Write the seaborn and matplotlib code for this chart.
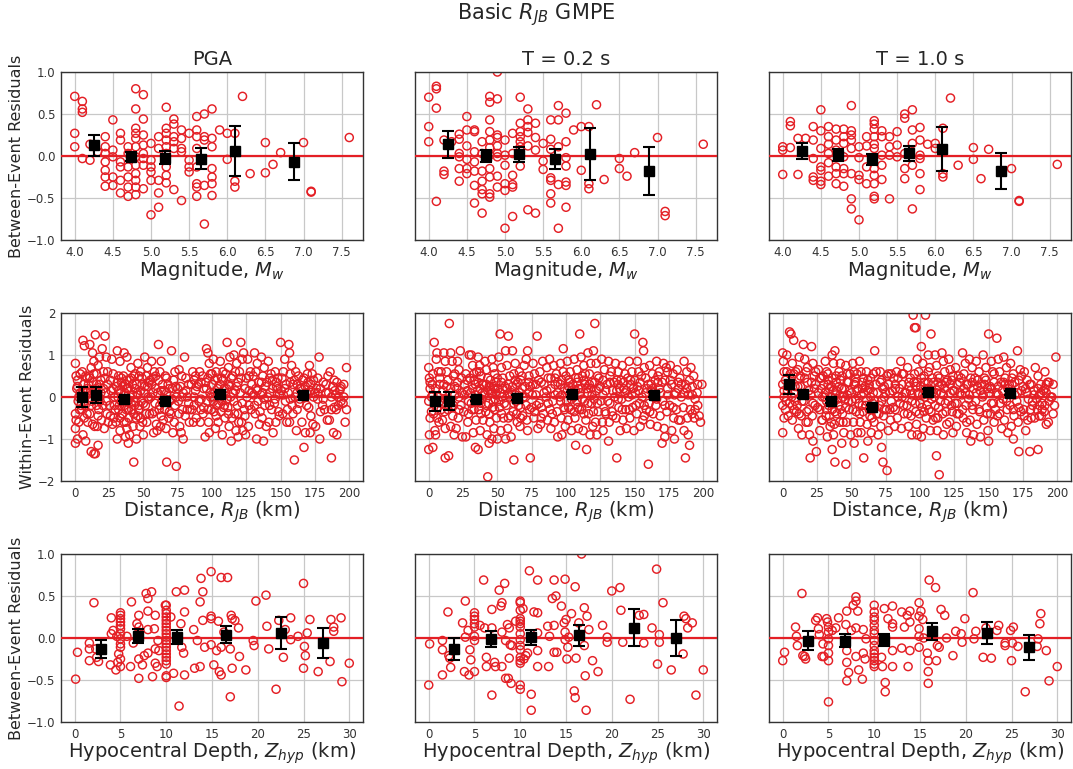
import matplotlib
matplotlib.use("Agg")
import matplotlib.pyplot as plt
import seaborn as sns

sns.set_style("white")
plt.rcParams['font.family'] = ['DejaVu Sans']

# ---------------- Magnitude (between-event) ----------------
mag_pga = [(4.0,0.71),(4.0,0.27),(4.0,0.11),(4.1,0.65),(4.1,0.56),(4.1,0.52),(4.1,-0.03),(4.2,0.14),(4.2,-0.05),
 (4.3,0.05),(4.4,0.23),(4.4,0.11),(4.4,0.03),(4.4,-0.07),(4.4,-0.17),(4.4,-0.25),(4.4,-0.36),(4.5,0.43),(4.5,0.07),
 (4.5,-0.01),(4.5,-0.25),(4.5,-0.35),(4.6,0.27),(4.6,0.19),(4.6,-0.07),(4.6,-0.13),(4.6,-0.29),(4.6,-0.44),(4.7,0.11),
 (4.7,0.03),(4.7,-0.13),(4.7,-0.25),(4.7,-0.37),(4.7,-0.48),(4.8,0.80),(4.8,0.56),(4.8,0.33),(4.8,0.27),(4.8,0.21),
 (4.8,0.11),(4.8,-0.01),(4.8,-0.11),(4.8,-0.21),(4.8,-0.29),(4.8,-0.37),(4.8,-0.46),(4.9,0.73),(4.9,0.44),(4.9,0.25),
 (4.9,0.13),(4.9,0.03),(4.9,-0.03),(4.9,-0.11),(4.9,-0.39),(5.0,0.15),(5.0,-0.05),(5.0,-0.13),(5.0,-0.19),(5.0,-0.29),
 (5.0,-0.70),(5.1,0.23),(5.1,0.09),(5.1,-0.29),(5.1,-0.44),(5.1,-0.61),(5.2,0.58),(5.2,0.33),(5.2,0.27),(5.2,0.19),
 (5.2,0.11),(5.2,0.03),(5.2,-0.13),(5.2,-0.23),(5.2,-0.32),(5.3,0.44),(5.3,0.38),(5.3,0.23),(5.3,0.17),(5.3,0.09),
 (5.3,-0.40),(5.4,0.31),(5.4,0.21),(5.4,0.09),(5.4,0.05),(5.4,-0.53),(5.5,0.27),(5.5,-0.05),(5.5,-0.13),(5.5,-0.19),
 (5.6,0.47),(5.6,0.31),(5.6,0.23),(5.6,0.09),(5.6,-0.13),(5.6,-0.33),(5.6,-0.37),(5.6,-0.48),(5.7,0.50),(5.7,0.23),
 (5.7,0.19),(5.7,-0.35),(5.7,-0.81),(5.8,0.56),(5.8,0.21),(5.8,0.11),(5.8,-0.15),(5.8,-0.25),(5.8,-0.33),(5.8,-0.47),
 (5.9,0.31),(6.0,0.27),(6.0,-0.04),(6.1,0.27),(6.1,-0.30),(6.1,-0.37),(6.2,0.71),(6.3,-0.21),(6.5,0.16),(6.5,-0.20),
 (6.6,-0.10),(6.7,0.04),(7.0,0.16),(7.1,-0.42),(7.1,-0.43),(7.6,0.22)]

mag_t02 = [(4.0,0.70),(4.0,0.35),(4.0,0.17),(4.1,0.83),(4.1,0.80),(4.1,0.57),(4.1,-0.54),(4.2,-0.18),(4.2,-0.22),
 (4.2,0.19),(4.3,0.17),(4.4,0.26),(4.4,0.20),(4.4,0.03),(4.4,-0.01),(4.4,-0.15),(4.4,-0.30),(4.5,0.47),(4.5,0.31),
 (4.5,0.12),(4.5,-0.04),(4.5,-0.15),(4.5,-0.21),(4.6,0.31),(4.6,0.29),(4.6,0.05),(4.6,-0.07),(4.6,-0.18),(4.6,-0.35),
 (4.6,-0.56),(4.7,0.17),(4.7,0.03),(4.7,-0.18),(4.7,-0.30),(4.7,-0.40),(4.7,-0.45),(4.7,-0.68),(4.8,0.71),(4.8,0.64),
 (4.8,0.43),(4.8,0.29),(4.8,0.19),(4.8,0.10),(4.8,0.01),(4.8,-0.15),(4.8,-0.25),(4.8,-0.45),(4.8,-0.49),(4.9,1.0),
 (4.9,0.68),(4.9,0.25),(4.9,0.22),(4.9,0.12),(4.9,0.03),(4.9,-0.01),(4.9,-0.24),(4.9,-0.37),(5.0,0.19),(5.0,0.01),
 (5.0,-0.11),(5.0,-0.33),(5.0,-0.41),(5.0,-0.86),(5.1,0.27),(5.1,0.03),(5.1,-0.23),(5.1,-0.34),(5.1,-0.37),(5.1,-0.72),
 (5.2,0.70),(5.2,0.39),(5.2,0.29),(5.2,0.23),(5.2,0.17),(5.2,0.11),(5.2,-0.12),(5.3,0.56),(5.3,0.43),(5.3,0.35),
 (5.3,0.28),(5.3,0.12),(5.3,-0.64),(5.4,0.39),(5.4,0.22),(5.4,0.07),(5.4,-0.68),(5.5,0.15),(5.5,-0.06),(5.5,-0.16),
 (5.6,0.43),(5.6,0.20),(5.6,0.08),(5.6,-0.26),(5.6,-0.29),(5.6,-0.45),(5.6,-0.56),(5.7,0.60),(5.7,0.43),(5.7,0.11),
 (5.7,-0.34),(5.7,-0.86),(5.8,0.51),(5.8,0.17),(5.8,-0.02),(5.8,-0.12),(5.8,-0.31),(5.8,-0.35),(5.8,-0.61),(5.9,0.31),
 (6.0,0.35),(6.0,-0.17),(6.1,0.35),(6.1,-0.33),(6.1,-0.39),(6.2,0.61),(6.3,-0.28),(6.5,-0.03),(6.5,-0.15),(6.6,-0.24),
 (6.7,0.04),(7.0,0.22),(7.1,-0.66),(7.1,-0.71),(7.6,0.14)]

mag_t10 = [(4.0,0.11),(4.0,0.07),(4.0,-0.22),(4.1,0.41),(4.1,0.36),(4.1,0.10),(4.2,0.21),(4.2,-0.22),(4.3,0.21),
 (4.4,0.35),(4.4,0.19),(4.4,-0.03),(4.4,-0.25),(4.4,-0.29),(4.5,0.55),(4.5,0.30),(4.5,0.09),(4.5,-0.13),(4.5,-0.17),
 (4.5,-0.30),(4.5,-0.34),(4.6,0.35),(4.6,0.23),(4.6,0.14),(4.6,0.03),(4.6,-0.08),(4.6,-0.24),(4.7,0.32),(4.7,0.19),
 (4.7,0.07),(4.7,-0.13),(4.7,-0.21),(4.7,-0.33),(4.8,0.32),(4.8,0.23),(4.8,0.15),(4.8,-0.01),(4.8,-0.15),(4.8,-0.21),
 (4.8,-0.36),(4.9,0.60),(4.9,0.30),(4.9,0.25),(4.9,0.19),(4.9,0.09),(4.9,-0.21),(4.9,-0.51),(4.9,-0.63),(5.0,0.11),
 (5.0,-0.02),(5.0,-0.23),(5.0,-0.28),(5.0,-0.76),(5.1,0.23),(5.1,0.12),(5.1,-0.13),(5.1,-0.33),(5.2,0.42),(5.2,0.38),
 (5.2,0.32),(5.2,0.23),(5.2,0.14),(5.2,0.09),(5.2,-0.15),(5.2,-0.23),(5.2,-0.33),(5.2,-0.48),(5.2,-0.51),(5.3,0.30),
 (5.3,0.23),(5.3,0.01),(5.3,-0.11),(5.3,-0.28),(5.4,0.23),(5.4,0.11),(5.4,0.01),(5.4,-0.51),(5.5,0.29),(5.5,0.13),
 (5.5,-0.01),(5.6,0.50),(5.6,0.45),(5.6,0.03),(5.6,-0.15),(5.6,-0.27),(5.7,0.55),(5.7,0.31),(5.7,0.15),(5.7,-0.11),
 (5.7,-0.63),(5.8,0.34),(5.8,0.19),(5.8,0.01),(5.8,-0.03),(5.8,-0.21),(5.8,-0.40),(5.9,0.14),(6.0,0.15),(6.0,0.09),
 (6.1,0.33),(6.1,-0.21),(6.1,-0.25),(6.2,0.69),(6.3,-0.11),(6.5,0.10),(6.5,-0.04),(6.6,-0.27),(6.7,0.08),(7.0,-0.15),
 (7.1,-0.53),(7.1,-0.54),(7.6,-0.10)]

mag_bin_x = [[4.25,4.74,5.19,5.65,6.10,6.88], [4.25,4.75,5.19,5.66,6.11,6.89], [4.25,4.73,5.17,5.65,6.09,6.86]]
mag_bin_y = [[0.13,-0.01,-0.02,-0.03,0.06,-0.07], [0.14,0.0,0.02,-0.04,0.02,-0.18], [0.06,0.01,-0.04,0.03,0.08,-0.18]]
mag_bin_e = [[0.125,0.055,0.075,0.12,0.30,0.22], [0.16,0.075,0.09,0.12,0.31,0.29], [0.09,0.07,0.065,0.09,0.26,0.21]]

# ---------------- Distance (within-event) ----------------
dist_pga = [(0.5,0.8),(1,0.5),(2,0.4),(1.5,0.2),(3,0.0),(2.5,-0.1),(0.5,-0.4),(1,-0.55),(0.5,-0.75),(2,-1.0),(0.5,-1.1),(3.5,-0.3),(4,0.55),(4.5,-0.2),
 (6,1.35),(7,1.22),(5.5,0.6),(8,0.5),(9,0.45),(6.5,0.3),(8.5,0.1),(7.5,-0.2),(5,-0.3),(9.5,-0.6),(6,-0.9),(8,-1.05),(9,0.2),(7,-0.5),
 (11,1.25),(13,1.05),(14,0.85),(12,0.7),(10.5,0.5),(13.5,0.35),(11.5,0.15),(12.5,-0.1),(13,-0.65),(14.5,-0.7),(12,-1.3),(14,-1.35),(10,0.3),(11,-0.4),(14,0.55),
 (15,1.48),(18,0.95),(17,0.75),(16,0.55),(19,0.4),(15.5,0.2),(18.5,-0.1),(17.5,-0.3),(19.5,-0.55),(16.5,-0.7),(17,-1.15),(15,-1.35),(18,0.3),(16,-0.2),
 (22,1.45),(20,1.15),(23,0.95),(21,0.6),(24,0.3),(22.5,0.1),(20.5,-0.2),(23.5,-0.4),(21.5,-0.75),(24.5,-0.6),(22,0.45),
 (27,0.9),(26,0.4),(28,0.2),(29,0.0),(25.5,-0.2),(28.5,-0.5),(27.5,-0.65),(26.5,0.15),(29.5,-0.3),
 (31,1.1),(33,0.85),(32,0.5),(34,0.35),(30.5,0.25),(33.5,0.1),(31.5,0.0),(32.5,-0.2),(34.5,-0.4),(30,-0.6),(33,-0.8),(31,-1.0),(34,0.45),(32,-0.3),
 (36,1.05),(38,0.95),(35.5,0.5),(37,0.3),(39,0.2),(36.5,0.1),(38.5,-0.1),(37.5,-0.3),(35,-0.4),(39.5,-0.5),(36,-0.6),(38,-0.75),(37,-0.95),(39,-1.1),(36,-0.2),(38,0.4),
 (41,0.7),(43,0.5),(42,0.3),(44,0.2),(40.5,0.0),(43.5,-0.2),(41.5,-0.3),(44.5,-0.5),(42.5,-0.7),(40,-0.9),(43,-1.55),(41,0.45),(44,-0.1),
 (46,0.8),(48,0.6),(47,0.5),(49,0.3),(45.5,0.1),(48.5,-0.1),(46.5,-0.3),(49.5,-0.6),(47.5,-0.7),(45,-1.0),(48,0.15),(46,-0.45),
 (51,0.95),(53,0.7),(52,0.5),(54,0.35),(50.5,0.1),(53.5,0.0),(51.5,-0.2),(54.5,-0.4),(52.5,-0.6),(50,-0.9),(53,0.25),
 (56,0.85),(58,0.6),(57,0.45),(59,0.2),(55.5,0.0),(58.5,-0.15),(56.5,-0.4),(59.5,-0.65),(57.5,-0.85),(56,0.3),
 (61,1.25),(63,0.85),(62,0.6),(64,0.3),(60.5,0.1),(63.5,-0.1),(61.5,-0.3),(64.5,-0.55),(62.5,-0.7),(60,-0.8),(63,0.15),
 (66,0.5),(68,0.3),(67,0.1),(69,-0.1),(65.5,-0.3),(68.5,-0.5),(66.5,-0.75),(67,-1.55),(69,0.2),
 (70.5,1.1),(72,0.4),(71,0.2),(74,0.0),(73,-0.2),(70,-0.4),(72.5,-0.6),(71.5,-0.85),(74,-1.65),(73.5,0.25),
 (76,0.65),(78,0.5),(77,0.25),(79,0.1),(75.5,-0.1),(78.5,-0.3),(76.5,-0.7),(77.5,-0.85),(79,-1.0),(80,0.95),
 (81,0.45),(83,0.3),(82,0.0),(84,-0.3),(80.5,-0.45),(83.5,-0.6),(82,-0.3),
 (86,0.6),(88,0.5),(87,0.4),(89,0.25),(85.5,-0.3),(88.5,-0.5),(86.5,-0.6),(87,0.0),
 (91,0.6),(93,0.5),(92,0.35),(94,0.2),(90.5,-0.1),(93.5,-0.4),(91.5,-0.6),(92,-0.3),
 (96,1.15),(97,1.05),(98,0.8),(99,0.55),(95.5,0.35),(98.5,0.1),(96.5,-0.1),(99.5,-0.3),(97.5,-0.6),(95,-0.95),(98,-0.85),(97,0.45),
 (101,0.9),(103,0.6),(102,0.4),(104,0.2),(100.5,0.0),(103.5,-0.2),(101.5,-0.35),(104.5,-0.6),(102.5,-0.75),(100,0.55),
 (106,0.85),(108,0.6),(107,0.45),(109,0.2),(105.5,0.0),(108.5,-0.25),(106.5,-0.35),(109.5,-0.5),(107.5,-0.9),(106,0.3),
 (111,1.3),(113,0.95),(112,0.7),(114,0.45),(110.5,0.2),(113.5,0.0),(111.5,-0.25),(114.5,-0.5),(112.5,-0.7),(114,-1.05),(112,0.3),
 (116,1.0),(118,0.8),(117,0.6),(119,0.35),(115.5,0.1),(118.5,-0.2),(116.5,-0.4),(119.5,-0.6),(117.5,-0.8),(119,-0.95),(117,0.15),
 (121,1.3),(123,1.05),(122,0.9),(124,0.2),(120.5,0.1),(123.5,-0.3),(121.5,-0.6),(124.5,-0.9),(122.5,-0.8),(121,0.45),
 (126,0.9),(128,0.6),(127,0.5),(129,0.3),(125.5,0.0),(128.5,-0.3),(126.5,-0.7),(127,0.15),
 (131,1.05),(133,0.8),(132,0.6),(134,0.35),(130.5,0.05),(133.5,-0.1),(131.5,-0.4),(134.5,-0.65),(132.5,-1.0),(132,0.2),
 (136,0.95),(138,0.7),(137,0.5),(139,0.25),(135.5,0.05),(138.5,-0.2),(136.5,-0.5),(139.5,-0.7),(137.5,-1.05),(136,0.35),
 (141,0.85),(143,0.55),(142,0.45),(144,0.2),(140.5,0.0),(143.5,-0.3),(141.5,-0.6),(144.5,-0.85),(142,0.1),
 (146,0.6),(148,0.45),(147,0.25),(149,0.05),(145.5,-0.15),(148.5,-0.35),(146.5,-0.6),(147,0.35),
 (150,1.3),(153,0.9),(152,0.6),(154,0.3),(150.5,0.15),(153.5,-0.1),(151.5,-0.4),(154.5,-0.6),(152,0.05),
 (156,1.25),(156.5,1.05),(158,0.75),(157,0.55),(159,0.3),(155.5,0.1),(158.5,-0.2),(156.5,-0.6),(160,-1.5),(157,-0.05),
 (161,0.6),(163,0.5),(162,0.3),(164,0.2),(160.5,0.0),(163.5,-0.15),(161.5,-0.8),(162,0.1),
 (166,0.4),(168,0.25),(167,0.0),(169,-0.2),(165.5,-0.6),(167,-1.2),(168,-0.85),(169.5,0.55),
 (171,0.75),(173,0.55),(172,0.3),(174,0.0),(170.5,-0.25),(173.5,-0.65),(171.5,-0.85),(172,0.15),
 (176,0.2),(178,0.95),(177,0.1),(179,-0.35),(175.5,-0.7),(178.5,-1.0),(177,-0.05),
 (181,0.35),(183,0.1),(182,-0.3),(184,-0.55),(180.5,-0.2),(184.5,0.5),
 (186,0.6),(188,0.25),(187,0.0),(189,-0.25),(185.5,-0.55),(188.5,-0.85),(187,-1.45),(189.5,0.15),
 (191,0.35),(193,0.15),(192,0.0),(194,-0.1),(190.5,-0.3),(191,-0.9),(193.5,0.2),
 (198,0.7),(196,0.0),(197,-0.6),(195.5,-0.15)]

dist_pga_core = [(2,0.25),(3,-0.6),(4,0.1),(6,0.15),(7,-0.1),(9,-0.4),(11,0.45),(12,-0.2),(13,0.1),(16,0.3),(17,-0.45),(19,0.1),
 (21,0.2),(23,-0.1),(24,0.6),(26,-0.45),(28,0.55),(29,-0.2),(31,0.35),(32,0.15),(33,-0.5),(34,-0.1),(35,0.25),(36,-0.05),
 (37,0.05),(37.5,-0.6),(38,0.2),(39,-0.3),(40,0.4),(41,-0.15),(42,0.05),(43,-0.4),(44,0.55),(45,0.3),(46,0.05),(47,-0.2),
 (48,-0.5),(49,0.45),(50,-0.15),(51,0.25),(52,-0.4),(54,-0.05),(55,0.4),(57,0.1),(58,-0.35),(59,0.5),(61,0.4),(62,-0.2),
 (63,-0.45),(65,0.15),(66,-0.05),(67,0.45),(69,-0.35),(71,-0.05),(73,0.6),(75,0.2),(76,-0.4),(78,0.0),(81,0.15),(83,-0.15),
 (85,0.3),(87,-0.2),(88,0.15),(90,0.3),(92,-0.05),(94,-0.25),(96,0.2),(97,-0.3),(99,0.0),(100,0.3),(101,-0.1),(102,0.1),
 (103,-0.45),(104,0.45),(105,-0.15),(106,0.1),(107,-0.1),(108,0.4),(109,-0.2),(110,0.55),(111,-0.05),(112,-0.4),(113,0.25),
 (115,0.5),(116,-0.1),(118,0.25),(119,-0.4),(120,0.6),(122,-0.15),(124,-0.45),(125,0.45),(127,-0.2),(129,0.1),(130,0.5),
 (131,-0.2),(133,0.15),(135,-0.35),(137,0.1),(138,-0.05),(140,0.35),(142,-0.2),(144,0.4),(146,-0.05),(148,0.2),(149,-0.45),
 (151,0.45),(153,0.2),(155,-0.3),(157,0.35),(159,-0.4),(160,0.4),(162,-0.3),(164,-0.05),(165,0.2),(167,0.45),(169,0.1),
 (170,0.35),(172,-0.45),(174,0.4),(175,0.1),(177,0.45),(179,0.2),(181,-0.05),(183,0.3),(185,0.1),(187,-0.3),(189,0.4),
 (190,0.05),(192,-0.2),(194,0.25),(196,0.3),(198,-0.3)]

dist_t02 = [(0,0.7),(0.5,0.45),(1,0.2),(0,-0.1),(1,-0.5),(0.5,-0.9),(0,-1.25),(3,0.55),(4,1.3),(3.5,-0.4),(2,0.0),(4.5,-0.8),(2.5,0.3),(3,-1.2),
 (6,1.05),(5.5,0.9),(7,0.6),(8,0.3),(6.5,0.0),(9,-0.3),(7.5,-0.6),(5,-0.9),(8,0.45),(9.5,-0.15),(6,-0.5),
 (11,1.05),(12,0.85),(13,0.6),(14,0.4),(10.5,0.15),(13.5,-0.05),(11.5,-0.35),(12,-0.75),(14.5,-1.4),(12,-1.45),(10,-0.55),(13,0.25),
 (15,1.75),(16,1.05),(17,0.85),(18,0.5),(19,0.25),(15.5,-0.1),(17.5,-0.45),(18.5,-0.9),(16,-0.7),(19,0.05),(17,-0.25),
 (21,0.85),(22,0.65),(23,1.1),(24,0.45),(20.5,0.2),(23.5,-0.2),(21.5,-0.5),(24.5,-0.95),(22,0.0),(20,-0.75),
 (26,0.3),(27,0.55),(28,0.15),(29,-0.1),(25.5,-0.35),(28.5,-0.6),(27,-0.95),(29.5,1.0),
 (31,1.0),(32,0.75),(33,0.55),(34,0.3),(30.5,0.1),(33.5,-0.1),(31.5,-0.3),(34.5,-0.55),(32.5,-0.85),(34,-1.2),(33,0.4),
 (36,0.95),(37,0.75),(38,0.5),(39,0.3),(35.5,0.15),(38.5,-0.05),(36.5,-0.3),(39.5,-0.55),(37.5,-0.8),(36,-1.25),(38,-0.15),(37,0.6),
 (41,0.85),(42,0.65),(43,0.45),(44,0.25),(40.5,0.05),(43.5,-0.15),(41.5,-0.35),(44.5,-0.6),(42.5,-0.9),(43,-1.9),(44,-1.1),(42,0.3),
 (46,0.9),(47,0.7),(48,0.55),(49,0.35),(45.5,0.15),(48.5,-0.05),(46.5,-0.25),(49.5,-0.5),(47.5,-0.75),(46,-1.0),(48,0.2),(47,-0.1),
 (52,1.5),(51,0.95),(53,0.7),(54,0.45),(50.5,0.2),(53.5,0.0),(51.5,-0.25),(54.5,-0.5),(52.5,-0.8),(50,-1.0),(53,0.35),
 (58,1.45),(56,1.1),(57,0.75),(59,0.5),(55.5,0.25),(58.5,0.05),(56.5,-0.2),(59.5,-0.45),(57.5,-0.75),(56,-1.0),(58,0.3),
 (61,1.1),(63,0.8),(62,0.55),(64,0.3),(60.5,0.1),(63.5,-0.1),(61.5,-0.35),(64.5,-0.6),(62,-1.5),(60,-0.95),(63,0.4),
 (66,0.6),(67,0.4),(68,0.2),(69,0.0),(65.5,-0.2),(68.5,-0.45),(66.5,-0.7),(69.5,0.75),(67,-0.25),
 (71,0.9),(72,1.1),(73,0.5),(74,0.25),(70.5,0.0),(73.5,-0.3),(71.5,-0.55),(74,-1.45),(72,-0.8),(73,0.35),
 (76,0.8),(79,1.45),(77,0.55),(78,0.3),(75.5,0.05),(78.5,-0.2),(76.5,-0.5),(79.5,-0.75),(77,-0.35),
 (81,0.6),(83,0.85),(82,0.35),(84,0.1),(80.5,-0.15),(83.5,-0.4),(81.5,-0.65),(82,-0.25),
 (86,0.7),(88,0.9),(87,0.45),(89,0.2),(85.5,0.0),(88.5,-0.3),(86.5,-0.55),(89,-0.75),
 (91,0.75),(93,0.55),(92,0.3),(94,0.1),(90.5,-0.1),(93.5,-0.35),(91.5,-0.6),(94,-0.95),(92,0.45),
 (96,0.8),(98,0.6),(97,0.4),(99,0.2),(95.5,0.0),(98.5,-0.25),(96.5,-0.5),(99.5,-0.7),(97,-0.9),(98,1.15),(96,-0.1),
 (101,0.85),(103,0.6),(102,0.4),(104,0.15),(100.5,-0.1),(103.5,-0.3),(101.5,-0.55),(104,-0.8),(102,0.25),
 (106,0.9),(108,0.65),(107,0.45),(109,0.2),(105.5,0.0),(108.5,-0.25),(106.5,-0.5),(109,-0.75),(107,-1.15),(110,1.5),(108,0.35),
 (111,0.95),(113,0.75),(112,0.5),(114,0.3),(110.5,0.1),(113.5,-0.1),(111.5,-0.3),(114.5,-0.55),(112.5,-0.8),(115,-1.25),(113,0.4),
 (116,1.05),(118,0.8),(117,0.55),(119,0.35),(115.5,0.1),(118.5,-0.15),(116.5,-0.4),(119.5,-0.7),(117.5,-0.9),(118,0.2),
 (121,1.75),(120,1.1),(122,0.8),(123,0.5),(124,0.2),(120.5,-0.05),(123.5,-0.35),(121.5,-0.6),(122.5,-0.9),(121,0.35),
 (126,0.9),(128,0.65),(127,0.4),(129,0.15),(125.5,-0.1),(128.5,-0.35),(126.5,-0.6),(127,-0.8),
 (131,0.85),(133,0.6),(132,0.35),(134,0.15),(130.5,-0.1),(133.5,-0.35),(131.5,-0.6),(131,-1.05),(132,0.5),
 (136,0.8),(138,0.6),(137,0.4),(139,0.2),(135.5,0.0),(138.5,-0.25),(136.5,-0.5),(137,-1.45),(139.5,-0.8),(138,0.3),
 (141,0.75),(143,0.55),(142,0.35),(144,0.15),(140.5,-0.05),(143.5,-0.3),(141.5,-0.55),(144,-0.75),(142,0.2),
 (146,0.85),(148,0.6),(147,0.4),(149,0.2),(145.5,0.0),(148.5,-0.25),(146.5,-0.5),(149.5,-0.8),(147,0.3),
 (150,1.5),(152,0.85),(153,0.6),(154,0.35),(150.5,0.1),(153.5,-0.15),(151.5,-0.4),(154,-0.7),(152,0.25),
 (156,1.3),(156.5,1.1),(157,0.7),(158,0.45),(159,0.2),(155.5,0.0),(158.5,-0.3),(156,-0.55),(160,-1.6),(157,-0.2),
 (161,0.75),(163,0.55),(162,0.3),(164,0.1),(160.5,-0.15),(163.5,-0.4),(161.5,-0.65),(162,0.15),
 (166,0.85),(168,0.6),(167,0.35),(169,0.1),(165.5,-0.2),(168.5,-0.45),(166.5,-0.7),(170,-1.1),(167,0.5),
 (171,0.8),(173,0.7),(172,0.4),(174,0.2),(170.5,-0.1),(173.5,-0.35),(171.5,-0.75),(172,-0.95),(174,0.6),
 (176,0.75),(178,0.55),(177,0.3),(179,0.05),(175.5,-0.2),(178.5,-0.5),(179,-1.0),(177,-0.8),
 (181,0.65),(183,0.45),(182,0.2),(184,0.0),(180.5,-0.3),(183.5,-0.55),(182,0.35),
 (186,0.85),(188,0.6),(187,0.3),(189,0.05),(185.5,-0.25),(188.5,-0.5),(187,-1.45),(186,-0.8),(189,-0.9),
 (191,0.7),(193,0.5),(192,0.25),(194,-0.05),(190.5,-0.3),(193.5,-0.5),(190,-1.15),(192,-0.4),
 (199,0.3),(196,-0.2),(197,-0.45),(195.5,0.1)]

dist_t02_core = [(1,0.35),(2,-0.35),(3,0.05),(5,0.2),(6,-0.25),(8,-0.1),(9,0.6),(11,0.3),(12,-0.05),(14,-0.3),(16,0.2),(18,-0.2),
 (19,0.55),(21,0.35),(22,-0.3),(24,0.1),(26,0.05),(28,0.4),(29,-0.4),(30,0.45),(31,-0.15),(32,0.2),(33,-0.3),(34,0.05),
 (35,0.6),(36,0.35),(37,-0.05),(37.5,0.2),(38,-0.4),(39,0.1),(40,0.3),(41,0.1),(42,-0.2),(43,0.15),(44,-0.4),(45,0.4),
 (46,0.1),(47,0.25),(48,-0.3),(49,0.05),(50,0.45),(51,-0.1),(52,0.1),(53,-0.4),(54,0.2),(55,-0.15),(57,0.2),(58,-0.5),
 (59,0.0),(61,0.25),(62,-0.15),(63,0.05),(64,-0.4),(65,0.35),(66,0.1),(67,-0.5),(68,0.5),(70,0.25),(71,-0.2),(73,0.1),
 (75,-0.25),(76,0.3),(78,0.05),(80,0.4),(82,-0.5),(84,0.3),(86,0.15),(87,-0.15),(89,0.45),(90,-0.4),(92,0.05),(94,0.35),
 (96,0.3),(97,0.05),(99,-0.3),(100,0.5),(101,0.15),(102,-0.25),(103,0.35),(104,-0.05),(105,0.3),(106,-0.35),(107,0.15),
 (108,-0.1),(109,0.45),(110,-0.3),(111,0.2),(112,-0.05),(113,-0.4),(114,0.55),(115,0.2),(116,-0.15),(117,0.3),(119,0.05),
 (120,-0.35),(122,0.15),(123,-0.15),(124,0.45),(125,0.25),(127,0.05),(129,-0.4),(130,0.3),(132,-0.15),(134,-0.45),(135,0.35),
 (137,0.15),(138,-0.05),(140,0.4),(141,-0.3),(143,0.1),(145,0.45),(146,-0.3),(148,0.05),(150,0.4),(151,-0.2),(153,0.15),
 (155,0.5),(157,-0.45),(158,0.1),(160,0.3),(161,-0.35),(163,0.2),(165,0.4),(166,-0.05),(168,0.2),(170,0.35),(172,-0.2),
 (174,0.05),(176,0.4),(178,-0.25),(180,0.1),(182,-0.55),(184,0.3),(186,0.1),(188,0.2),(190,0.4),(192,0.05),(194,-0.3),
 (196,0.3),(198,-0.6)]

dist_t10 = [(0,1.05),(0.5,0.85),(1,0.6),(0,0.3),(1,0.0),(0,-0.2),(1,-0.5),(0,-0.85),(3,1.0),(2,0.4),(4,-0.45),(3.5,0.15),(5,1.55),(2.5,-0.1),
 (6,1.5),(8,1.35),(7,0.8),(5.5,0.55),(9,0.25),(6.5,0.0),(8.5,-0.3),(7,-0.55),(9.5,0.6),(5,-0.15),(8,0.1),
 (11,0.65),(12,0.45),(13,0.25),(14,0.05),(10.5,-0.2),(13.5,-0.45),(11.5,-0.75),(15,1.25),(14,-0.9),(12,0.95),(10,-0.35),
 (16,0.9),(17,0.6),(18,0.35),(19,0.15),(15.5,-0.1),(17.5,-0.35),(18.5,-0.6),(19.5,-0.9),(20,-1.45),(16,0.45),
 (21,1.2),(22,0.8),(23,0.5),(24,0.3),(20.5,0.05),(23.5,-0.2),(21.5,-0.45),(24.5,-1.3),(22,-1.05),(23,0.2),
 (26,0.65),(27,0.45),(28,0.2),(29,0.0),(25.5,-0.25),(28.5,-0.55),(27,-0.8),(29.5,0.5),
 (31,0.85),(32,0.6),(33,0.4),(34,0.2),(30.5,0.0),(33.5,-0.2),(31.5,-0.45),(34.5,-0.7),(32.5,-0.95),(33,0.3),(32,-0.1),
 (36,1.0),(37,0.8),(38,1.1),(39,0.5),(35.5,0.25),(38.5,0.05),(36.5,-0.15),(39.5,-0.4),(37.5,-0.65),(36,-1.25),(38,-1.55),(37,-0.9),(39,0.15),(36,-0.3),
 (41,0.6),(42,0.4),(43,0.2),(44,0.0),(40.5,-0.2),(43.5,-0.4),(41.5,-0.6),(44.5,-0.85),(42,0.8),(43,-1.1),
 (46,0.75),(47,0.55),(48,0.35),(49,0.15),(45.5,-0.05),(48.5,-0.3),(46.5,-0.6),(46,-1.6),(49.5,-0.9),(47,0.05),
 (51,0.8),(52,0.6),(53,0.35),(54,0.15),(50.5,-0.1),(53.5,-0.35),(51.5,-0.6),(54.5,-0.85),(52,-1.1),(53,0.45),
 (56,0.85),(57,0.6),(58,0.35),(59,0.1),(55.5,-0.15),(58.5,-0.35),(56.5,-0.6),(59,-1.45),(57,-0.85),(58,0.2),
 (61,0.6),(62,0.4),(63,0.2),(64,0.0),(60.5,-0.2),(63.5,-0.45),(61.5,-0.65),(64.5,-0.85),(62,-1.05),(63,0.3),
 (67,1.1),(66,0.55),(68,0.3),(69,0.1),(65.5,-0.15),(68.5,-0.4),(66.5,-0.6),(69.5,-0.9),(67,-0.25),
 (71,0.6),(72,0.4),(73,0.2),(74,0.0),(70.5,-0.2),(73.5,-0.45),(71.5,-0.7),(73,-1.55),(72,-1.2),(74,0.25),
 (76,0.5),(77,0.3),(78,0.1),(79,-0.1),(75.5,-0.3),(78.5,-0.55),(76,-1.75),(77,-0.8),(79,0.55),
 (81,0.45),(83,0.6),(82,0.2),(84,0.0),(80.5,-0.25),(83.5,-0.5),(81.5,-0.7),(82,0.3),
 (86,0.85),(88,0.55),(87,0.3),(89,0.1),(85.5,-0.15),(88.5,-0.4),(86.5,-0.75),(87,0.0),
 (91,0.7),(93,0.45),(92,0.25),(94,0.05),(90.5,-0.2),(93.5,-0.45),(91.5,-0.7),(94,-0.9),(92,0.35),
 (95,1.95),(96,1.65),(97,1.65),(98,0.9),(99,0.6),(95.5,0.35),(98.5,0.1),(96.5,-0.15),(99.5,-0.4),(97.5,-0.65),(98,-0.9),(97,0.25),
 (104,1.95),(101,1.2),(102,0.8),(103,0.5),(100.5,0.25),(103.5,0.0),(101.5,-0.25),(104.5,-0.5),(102.5,-0.75),(101,-0.95),(103,0.35),
 (108,1.5),(106,1.0),(107,0.7),(109,0.45),(105.5,0.2),(108.5,-0.05),(106.5,-0.3),(109.5,-0.55),(107.5,-0.8),(106,0.35),(108,0.15),
 (111,1.0),(112,0.75),(113,0.5),(114,0.25),(110.5,0.0),(113.5,-0.25),(111.5,-0.5),(112,-1.4),(114,-1.85),(112.5,-0.8),(113,0.35),
 (116,1.05),(117,0.85),(118,0.6),(119,0.35),(115.5,0.1),(118.5,-0.15),(116.5,-0.4),(119.5,-0.65),(117,-0.9),(118,0.2),
 (121,0.9),(122,0.65),(123,0.4),(124,0.15),(120.5,-0.1),(123.5,-0.35),(121.5,-0.6),(124,-0.85),(122,0.3),
 (126,0.7),(128,0.5),(127,0.3),(129,0.1),(125.5,-0.15),(128.5,-0.4),(126.5,-0.7),(127,-0.15),
 (131,1.05),(133,0.8),(132,0.55),(134,0.3),(130.5,0.05),(133.5,-0.2),(131.5,-0.5),(134,-0.85),(132,0.2),
 (136,0.9),(138,0.7),(137,0.45),(139,0.2),(135.5,-0.05),(138.5,-0.3),(136.5,-0.55),(139,-0.9),(137,-1.05),(138,0.35),
 (141,0.85),(143,0.6),(142,0.4),(144,0.15),(140.5,-0.1),(143.5,-0.35),(141.5,-0.65),(144,-0.95),(142,0.25),
 (146,1.0),(148,0.7),(147,0.45),(149,0.2),(145.5,0.0),(148.5,-0.25),(146.5,-0.55),(149.5,-0.8),(147,0.3),
 (150,1.5),(152,0.85),(153,0.6),(154,0.35),(150.5,0.1),(153.5,-0.15),(151.5,-0.4),(150,-1.05),(152,0.2),(154,-0.6),
 (156,1.4),(157,0.9),(158,0.6),(159,0.35),(155.5,0.1),(158.5,-0.15),(156.5,-0.45),(159.5,-0.75),(157,0.25),
 (161,0.95),(163,0.7),(162,0.45),(164,0.2),(160.5,-0.05),(163.5,-0.3),(161.5,-0.55),(164,-0.85),(162,0.3),
 (166,0.8),(168,0.55),(167,0.3),(169,0.05),(165.5,-0.2),(168.5,-0.45),(168,-1.0),(166.5,-0.7),(167,0.45),
 (171,1.1),(173,0.65),(172,0.4),(174,0.15),(170.5,-0.1),(173.5,-0.35),(172,-1.3),(171.5,-0.6),(174,0.5),
 (176,0.6),(178,0.4),(177,0.2),(179,-0.05),(175.5,-0.3),(178.5,-0.55),(180,-1.3),(177,-0.8),
 (181,0.3),(183,0.15),(182,-0.1),(184,0.7),(180.5,-0.3),(183.5,-0.5),(182,-0.2),
 (186,0.5),(188,0.3),(187,0.05),(189,-0.15),(185.5,-0.3),(188.5,-0.45),(186,-1.25),(187,-0.2),
 (191,0.6),(193,0.35),(192,0.1),(194,-0.1),(190.5,-0.35),(193.5,-0.6),(192,-0.65),(191,0.2),
 (199,0.95),(197,0.3),(196,0.0),(198,-0.2)]

dist_t10_core = [(1,0.15),(2,-0.3),(3,0.6),(4,0.25),(6,0.3),(7,-0.2),(8,0.55),(9,-0.1),(11,0.25),(12,-0.4),(13,0.5),(14,-0.1),
 (16,0.05),(17,-0.6),(18,0.7),(19,-0.3),(21,0.35),(22,-0.15),(24,0.6),(26,0.1),(27,-0.3),(28,0.45),(29,-0.55),(30,0.3),
 (31,0.1),(32,-0.3),(33,0.55),(34,-0.45),(35,0.0),(35.5,-0.6),(36,0.45),(37,0.15),(37.5,-0.1),(38,-0.35),(39,0.35),(40,-0.05),
 (41,0.25),(42,-0.3),(43,0.5),(44,-0.6),(45,0.2),(46,-0.25),(47,0.35),(48,-0.1),(49,0.55),(50,0.1),(51,-0.3),(52,0.3),
 (53,-0.05),(54,0.55),(55,0.2),(56,-0.4),(57,0.05),(58,-0.2),(59,0.45),(60,0.25),(61,-0.1),(62,0.15),(63,-0.3),(64,0.45),
 (65,-0.5),(66,0.1),(67,-0.1),(68,0.6),(70,-0.4),(71,0.35),(72,-0.1),(74,-0.3),(75,0.1),(77,0.55),(78,-0.3),(80,0.15),
 (82,-0.3),(84,0.45),(85,0.2),(87,0.55),(88,-0.2),(90,0.1),(91,-0.4),(93,0.15),(94,-0.1),(96,0.55),(97,-0.35),(98,0.35),
 (99,0.05),(100,-0.15),(101,0.45),(102,0.05),(103,-0.35),(104,0.2),(105,-0.2),(106,0.6),(107,0.05),(108,-0.35),(109,0.1),
 (110,0.35),(111,-0.2),(112,0.1),(113,-0.5),(114,0.45),(115,-0.1),(116,0.3),(117,0.05),(119,-0.35),(120,0.4),(122,0.1),
 (123,-0.2),(124,0.5),(125,0.15),(127,-0.4),(129,0.35),(130,0.45),(131,-0.3),(133,0.1),(134,-0.6),(135,0.3),(136,0.05),
 (138,-0.2),(140,0.45),(141,0.1),(143,-0.3),(145,0.3),(146,0.05),(148,0.4),(149,-0.4),(151,0.25),(152,-0.15),(154,0.55),
 (155,-0.3),(157,0.05),(158,-0.4),(160,0.15),(161,0.35),(163,-0.1),(165,0.3),(166,0.1),(168,-0.3),(169,0.35),(171,0.1),
 (172,-0.25),(175,0.25),(176,-0.45),(178,0.1),(180,0.3),(181,-0.5),(183,0.05),(185,-0.05),(186,0.2),(187,-0.45),(188,0.1),
 (189,-0.3),(190,0.15),(191,-0.2),(192,0.3),(194,0.35),(195,0.0),(197,-0.4)]

dist_bin_x = [[5.1,15.3,35.8,65.4,105.6,166.0], [4.6,14.5,34.5,64.6,104.3,164.3], [4.8,15.0,35.0,65.2,105.6,165.5]]
dist_bin_y = [[0.0,0.05,-0.04,-0.10,0.06,0.05], [-0.10,-0.10,-0.04,-0.02,0.06,0.05], [0.30,0.07,-0.09,-0.23,0.13,0.10]]
dist_bin_e = [[0.24,0.20,0.05,0.05,0.06,0.06], [0.23,0.21,0.05,0.06,0.06,0.06], [0.22,0.10,0.05,0.05,0.05,0.05]]

# ---------------- Depth (between-event) ----------------
dep_pga = [(0.1,-0.49),(0.3,-0.17),(1.6,-0.06),(1.6,-0.13),(1.6,-0.27),(2.1,0.42),(2.3,-0.13),(2.4,-0.23),(2.6,-0.28),
 (3.9,-0.32),(4.0,0.24),(4.0,0.05),(4.2,0.09),(4.5,-0.38),(4.6,0.02),(4.7,-0.29),(4.8,-0.19),
 (5.0,0.30),(5.0,0.27),(5.0,0.23),(5.0,0.19),(5.0,0.15),(5.0,0.11),(5.0,0.05),(5.0,-0.01),(5.0,-0.07),(5.0,-0.11),(5.0,-0.25),(5.0,-0.34),
 (5.7,0.02),(6.1,-0.34),(6.2,0.43),(6.4,-0.06),(6.8,0.17),(7.0,0.27),(7.0,-0.25),(7.0,-0.48),(7.0,0.13),(7.0,0.07),
 (7.4,-0.32),(7.6,-0.21),(7.8,0.53),(8.0,0.47),(8.0,0.32),(8.0,0.10),(8.0,-0.18),(8.4,0.55),(8.5,-0.46),(8.7,0.11),
 (8.8,0.27),(8.8,-0.13),(8.8,-0.30),(9.0,-0.34),(9.1,-0.03),(9.2,-0.15),(9.9,0.39),
 (10.0,0.39),(10.0,0.33),(10.0,0.29),(10.0,0.25),(10.0,0.21),(10.0,0.17),(10.0,0.13),(10.0,0.09),(10.0,0.05),(10.0,0.01),
 (10.0,-0.03),(10.0,-0.07),(10.0,-0.11),(10.0,-0.15),(10.0,-0.19),(10.0,-0.23),(10.0,-0.27),(10.0,-0.31),(10.0,-0.45),(10.0,-0.47),
 (10.5,0.25),(10.8,-0.42),(11.1,0.55),(11.4,-0.81),(11.6,0.17),(11.7,-0.11),(11.9,-0.18),(12.0,0.31),(12.0,0.57),(12.0,-0.44),
 (13.0,0.10),(13.1,-0.36),(13.4,-0.03),(13.7,0.43),(13.7,-0.34),(13.8,0.71),(14.0,0.21),(14.0,0.55),(14.2,-0.11),(14.9,0.79),
 (14.9,0.26),(14.9,0.23),(14.9,-0.08),(15.2,-0.32),(15.5,-0.15),(15.7,0.20),(15.8,-0.40),(16.0,0.72),(16.0,-0.11),(16.0,-0.44),
 (16.3,0.07),(16.7,0.72),(17.0,-0.70),(17.1,0.27),(17.2,0.23),(17.0,-0.13),(17.2,-0.36),(17.5,0.21),(17.9,0.12),(18.0,-0.22),
 (18.7,-0.38),(19.5,-0.03),(19.6,-0.09),(19.8,0.44),(20.9,0.51),(21.0,0.14),(21.2,-0.13),(22.0,-0.61),(22.3,0.21),(22.8,-0.23),
 (23.0,0.10),(23.6,0.24),(23.6,-0.02),(24.4,0.02),(25.0,0.65),(25.0,-0.36),(25.1,-0.10),(25.2,-0.21),(25.4,0.06),(25.7,0.22),
 (26.6,-0.40),(27.9,-0.28),(28.0,0.22),(28.3,0.13),(28.3,0.08),(29.1,0.24),(29.2,-0.52),(30.0,-0.30)]

dep_t02 = [(0.0,-0.56),(0.1,-0.07),(1.5,-0.44),(1.5,-0.03),(1.5,-0.14),(2.1,0.31),(2.2,-0.21),(2.3,-0.24),(2.4,-0.35),
 (3.7,0.18),(3.9,-0.40),(4.0,0.44),(4.0,0.01),(4.3,0.09),(4.4,-0.44),(4.5,-0.14),(4.6,-0.26),
 (5.0,0.30),(5.0,0.26),(5.0,0.22),(5.0,0.17),(5.0,0.13),(5.0,0.02),(5.0,-0.03),(5.0,-0.40),
 (5.6,0.15),(6.0,0.69),(6.1,0.12),(6.3,-0.34),(6.3,-0.23),(6.9,0.34),(6.9,0.12),(6.9,-0.68),(7.2,-0.29),(7.3,-0.34),
 (7.7,0.57),(7.9,0.38),(8.0,0.42),(8.0,0.07),(8.0,-0.34),(8.3,0.65),(8.4,-0.03),(8.4,-0.48),(8.6,0.16),(8.7,-0.48),
 (8.8,0.12),(8.8,-0.24),(8.9,-0.08),(9.0,-0.54),(9.1,-0.09),(9.5,0.20),
 (10.0,0.44),(10.0,0.42),(10.0,0.33),(10.0,0.23),(10.0,0.20),(10.0,0.17),(10.0,0.13),(10.0,0.05),(10.0,-0.02),(10.0,-0.09),
 (10.0,-0.14),(10.0,-0.23),(10.0,-0.27),(10.0,-0.30),(10.0,-0.56),(10.0,-0.61),
 (10.3,0.35),(10.4,-0.25),(10.6,-0.21),(10.8,-0.18),(11.0,0.80),(11.2,-0.67),(11.2,-0.86),(11.5,0.31),(11.9,0.69),(11.9,0.30),
 (11.9,0.06),(11.9,-0.15),(11.9,-0.34),(13.0,0.14),(13.1,-0.34),(13.2,0.02),(13.5,0.47),(13.7,0.69),(13.7,0.15),(13.7,-0.17),
 (13.9,0.50),(14.0,-0.17),(14.5,0.38),(14.8,0.18),(14.9,0.70),(14.9,0.07),(14.9,-0.02),(15.0,0.22),(15.1,-0.25),(15.2,-0.11),
 (15.3,0.01),(15.6,0.29),(15.9,-0.63),(16.0,0.61),(16.0,-0.71),(16.1,-0.24),(16.4,0.18),(16.7,1.0),(17.0,0.36),(17.0,-0.09),
 (17.1,-0.45),(17.2,-0.86),(17.3,0.26),(17.5,0.10),(17.9,-0.27),(18.5,-0.40),(19.0,0.15),(19.5,0.01),(19.5,-0.05),(20.0,0.56),
 (20.9,0.60),(21.0,0.33),(21.2,-0.05),(22.0,-0.73),(23.0,0.27),(23.5,0.28),(23.5,-0.06),(24.4,0.12),(24.9,0.82),(25.0,-0.31),
 (25.2,0.04),(25.2,-0.05),(25.6,0.42),(26.5,-0.38),(27.8,-0.19),(27.9,0.26),(28.1,0.23),(28.3,0.12),(28.8,0.18),(29.2,-0.68),
 (30.0,-0.38)]

dep_t10 = [(0.0,-0.27),(0.2,-0.17),(1.4,0.13),(1.5,0.02),(1.6,-0.09),(2.1,0.53),(2.2,-0.21),(2.4,-0.22),(2.5,-0.25),
 (3.6,0.21),(3.8,0.24),(3.9,0.11),(4.0,0.04),(4.4,-0.07),(4.3,-0.22),(4.5,-0.22),
 (4.8,0.23),(4.9,0.19),(5.0,0.13),(5.0,0.07),(5.0,-0.01),(5.0,-0.09),(5.0,-0.18),(5.0,-0.27),(5.0,-0.76),
 (5.4,0.09),(5.8,0.12),(6.1,0.24),(6.9,0.16),(7.0,0.32),(7.0,-0.15),(7.0,-0.29),(7.0,-0.51),(7.2,-0.41),(7.5,0.09),
 (7.7,0.39),(8.0,0.49),(8.0,0.44),(8.0,0.12),(8.0,-0.22),(8.2,0.32),(8.3,-0.38),(8.7,-0.49),(8.8,0.10),(8.8,-0.18),
 (9.0,-0.25),(9.1,-0.01),
 (10.0,0.39),(10.0,0.31),(10.0,0.25),(10.0,0.21),(10.0,0.15),(10.0,0.09),(10.0,0.05),(10.0,-0.03),(10.0,-0.09),(10.0,-0.15),
 (10.0,-0.19),(10.0,-0.23),(10.0,-0.27),(10.0,-0.31),(10.0,-0.34),
 (10.8,-0.23),(10.9,-0.34),(11.1,0.35),(11.2,-0.53),(11.2,-0.64),(11.5,0.23),(12.0,0.17),(12.0,0.13),(12.0,-0.15),(12.0,-0.34),
 (12.0,0.38),(13.0,0.31),(13.0,-0.12),(13.3,0.13),(13.6,0.27),(13.7,-0.34),(13.9,0.32),(13.9,0.19),(13.9,-0.15),(14.9,0.42),
 (14.9,0.26),(14.9,0.11),(14.9,0.02),(14.9,-0.11),(15.1,0.32),(15.3,0.22),(15.4,0.0),(15.8,-0.18),(15.9,-0.40),(15.9,-0.27),
 (15.9,-0.54),(16.0,0.69),(16.7,0.60),(16.8,-0.27),(16.9,-0.09),(17.1,-0.11),(17.3,0.34),(17.7,0.27),(17.9,0.0),(18.6,-0.21),
 (18.9,0.08),(19.5,0.05),(19.6,-0.05),(19.9,0.23),(20.8,0.54),(20.9,-0.01),(21.1,0.08),(21.9,-0.23),(22.2,0.12),(22.8,-0.24),
 (23.4,0.09),(23.6,0.15),(24.3,-0.06),(24.3,-0.09),(24.9,0.09),(25.0,-0.27),(25.1,-0.06),(25.2,0.13),(25.7,-0.10),(26.5,-0.64),
 (27.9,-0.01),(27.8,-0.10),(28.1,0.17),(28.2,0.29),(28.8,-0.15),(29.1,-0.51),(30.0,-0.34)]

dep_bin_x = [[2.9,6.9,11.2,16.5,22.5,27.1], [2.8,6.8,11.2,16.4,22.4,27.0], [2.8,6.8,11.1,16.3,22.3,26.9]]
dep_bin_y = [[-0.13,0.02,0.01,0.04,0.06,-0.06], [-0.13,-0.01,0.01,0.03,0.12,0.0], [-0.03,-0.03,-0.02,0.08,0.06,-0.11]]
dep_bin_e = [[0.11,0.085,0.085,0.10,0.19,0.18], [0.13,0.095,0.09,0.13,0.22,0.22], [0.11,0.08,0.07,0.10,0.135,0.15]]

col_titles = ["PGA", "T = 0.2 s", "T = 1.0 s"]
row_xlabels = ["Magnitude, $M_w$", "Distance, $R_{JB}$ (km)", "Hypocentral Depth, $Z_{hyp}$ (km)"]
row_ylabels = ["Between-Event Residuals", "Within-Event Residuals", "Between-Event Residuals"]
mag_ticks = [4.0, 4.5, 5.0, 5.5, 6.0, 6.5, 7.0, 7.5]
dist_ticks = [0, 25, 50, 75, 100, 125, 150, 175, 200]
dep_ticks = [0, 5, 10, 15, 20, 25, 30]
be_yticks = [-1.0, -0.5, 0.0, 0.5, 1.0]
we_yticks = [-2, -1, 0, 1, 2]

scatter_data = [[mag_pga, mag_t02, mag_t10],
                [dist_pga + dist_pga_core, dist_t02 + dist_t02_core, dist_t10 + dist_t10_core],
                [dep_pga, dep_t02, dep_t10]]
bins_x = [mag_bin_x, dist_bin_x, dep_bin_x]
bins_y = [mag_bin_y, dist_bin_y, dep_bin_y]
bins_e = [mag_bin_e, dist_bin_e, dep_bin_e]
xticks = [mag_ticks, dist_ticks, dep_ticks]
xlims = [(3.82, 7.78), (-10, 210), (-1.5, 31.5)]
yticks = [be_yticks, we_yticks, be_yticks]
ylims = [(-1, 1), (-2, 2), (-1, 1)]

W, H = 1073, 769
fig = plt.figure(figsize=(W / 100, H / 100), dpi=100)
col_left = [61, 415, 769]
row_top = [72, 313, 554]
aw, ah = 302, 168
RED = "#e41f25"

for r in range(3):
    for c in range(3):
        ax = fig.add_axes([col_left[c] / W, 1 - (row_top[r] + ah) / H, aw / W, ah / H])
        pts = scatter_data[r][c]
        xs = [p[0] for p in pts]
        ys = [p[1] for p in pts]
        sns.scatterplot(x=xs, y=ys, ax=ax, marker="o", s=34, facecolors="none",
                        edgecolor=RED, linewidth=1.05, zorder=2, legend=False)
        ax.axhline(0, color=RED, lw=1.6, zorder=3)
        ax.errorbar(bins_x[r][c], bins_y[r][c], yerr=bins_e[r][c], fmt="s", color="black",
                    ms=7, capsize=4, elinewidth=1.5, capthick=1.5, zorder=5)
        ax.set_xlim(*xlims[r])
        ax.set_ylim(*ylims[r])
        ax.set_xticks(xticks[r])
        ax.set_yticks(yticks[r])
        ax.grid(True, color="#c8c8c8", lw=0.9)
        ax.set_axisbelow(True)
        ax.tick_params(direction="in", length=4, width=0.8, labelsize=8.5,
                       labelcolor="#333333", color="#333333", pad=4)
        for s in ax.spines.values():
            s.set_color("#333333")
            s.set_linewidth(1.0)
        ax.set_xlabel(row_xlabels[r], fontsize=14, labelpad=0)
        if c == 0:
            ax.set_ylabel(row_ylabels[r], fontsize=11.5, labelpad=2)
        else:
            ax.set_ylabel("")
            ax.tick_params(labelleft=False)
        if r == 0:
            ax.set_title(col_titles[c], fontsize=14, pad=5)

fig.text(0.5, 1 - 15 / H, "Basic $R_{JB}$ GMPE", ha="center", va="center", fontsize=15)
fig.savefig("out.png", dpi=100)
